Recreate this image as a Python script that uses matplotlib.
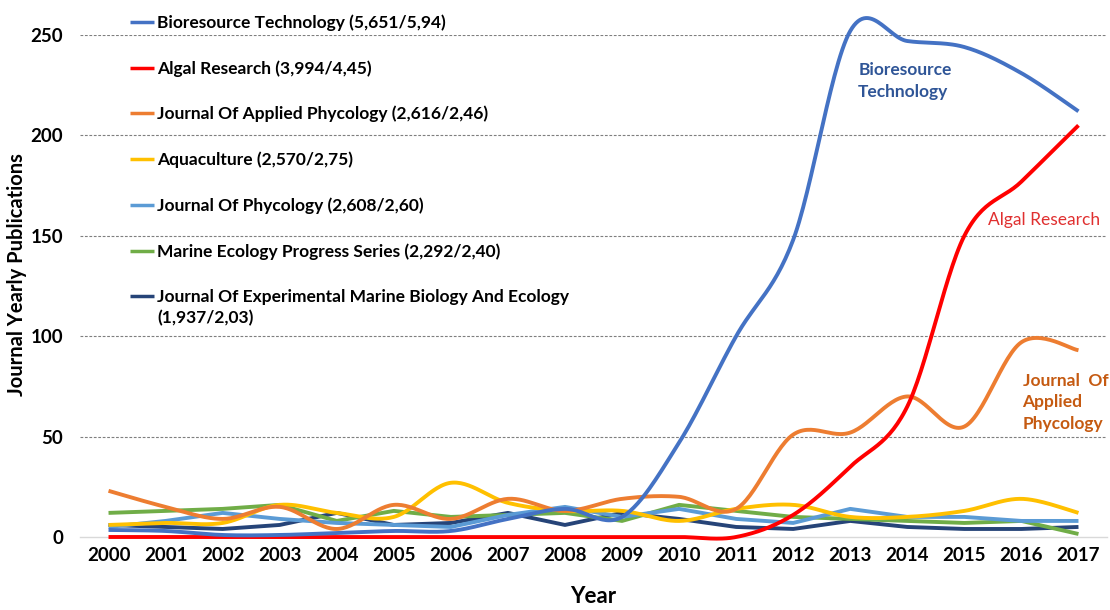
import numpy as np
import matplotlib
matplotlib.use("Agg")
import matplotlib.pyplot as plt

plt.rcParams['font.family'] = ['Lato', 'DejaVu Sans']

years = list(range(2000, 2018))

# yearly publications
bioresource = [3.5, 3, 1, 1, 2, 3, 3, 9, 14, 10, 47, 100, 148, 252, 247, 244, 231, 212]
algal = [0, 0, 0, 0, 0, 0, 0, 0, 0, 0, 0, 0, 11, 35, 65, 150, 177, 205]
applied_phyc = [23, 15, 9, 15, 4, 16, 9, 19, 13, 19, 20, 14, 51, 52, 70, 55, 97, 93]
aquaculture = [6, 7, 7, 16, 12, 10, 27, 17, 13, 13, 8, 14, 16, 10, 10, 13, 19, 12]
phycology = [5, 8, 12, 9, 7, 6, 5, 11, 15, 10, 14, 9, 7, 14, 10, 10, 8, 8]
meps = [12, 13, 14, 16, 8, 13, 10, 11, 12, 8, 16, 13, 10, 9, 8, 7, 8, 1.5]
jembe = [6, 5, 4, 6, 12, 6, 7, 12, 6, 12, 9, 5, 4, 8, 5, 4, 4, 5]

labels = [
    "Bioresource Technology (5,651/5,94)",
    "Algal Research (3,994/4,45)",
    "Journal Of Applied Phycology (2,616/2,46)",
    "Aquaculture (2,570/2,75)",
    "Journal Of Phycology (2,608/2,60)",
    "Marine Ecology Progress Series (2,292/2,40)",
    "Journal Of Experimental Marine Biology And Ecology",
]
series = [bioresource, algal, applied_phyc, aquaculture, phycology, meps, jembe]
colors = ['#4472C4', '#FF0000', '#ED7D31', '#FFC000', '#5B9BD5', '#70AD47', '#264478']
smooth = [True, True, True, True, False, False, False]


def excel_smooth(x, y, n=30):
    # Excel style smoothed line: Catmull-Rom through the points as cubic Beziers
    x = np.asarray(x, float)
    y = np.asarray(y, float)
    px = np.concatenate([[x[0]], x, [x[-1]]])
    py = np.concatenate([[y[0]], y, [y[-1]]])
    t = np.linspace(0, 1, n)[:, None]
    xs, ys = [], []
    for i in range(1, len(px) - 2):
        p0 = np.array([px[i], py[i]])
        p3 = np.array([px[i + 1], py[i + 1]])
        c1 = p0 + (np.array([px[i + 1], py[i + 1]]) - np.array([px[i - 1], py[i - 1]])) / 6
        c2 = p3 - (np.array([px[i + 2], py[i + 2]]) - np.array([px[i], py[i]])) / 6
        b = (1 - t) ** 3 * p0 + 3 * (1 - t) ** 2 * t * c1 + 3 * (1 - t) * t ** 2 * c2 + t ** 3 * p3
        xs.append(b[:, 0])
        ys.append(b[:, 1])
    return np.concatenate(xs), np.concatenate(ys)


fig = plt.figure(figsize=(11.1, 6.1), dpi=100)
ax = fig.add_axes([80 / 1110, 73 / 610, 1027 / 1110, 502 / 610])

xi = np.arange(len(years))
handles = []
for k, (vals, c, sm, lab) in enumerate(zip(series, colors, smooth, labels)):
    if sm:
        sx, sy = excel_smooth(xi, vals)
    else:
        sx, sy = xi, np.asarray(vals, float)
    h, = ax.plot(sx, sy, color=c, lw=2.8, solid_capstyle='butt', label=lab,
                 zorder=10 - k, clip_on=False)
    handles.append(h)

ax.set_xlim(-0.5, len(years) - 0.5)
ax.set_ylim(0, 250)
ax.set_xticks(xi)
ax.set_xticklabels([str(y) for y in years])
ax.set_yticks(range(0, 251, 50))
ax.tick_params(length=0, labelsize=13.5)
ax.tick_params(axis='y', pad=12)
ax.tick_params(axis='x', pad=7)
for t in ax.get_xticklabels() + ax.get_yticklabels():
    t.set_fontweight('bold')

for gy in range(50, 251, 50):
    ax.axhline(gy, color='#7f7f7f', lw=0.8, ls=(0, (2.5, 1.5)), zorder=0)
for s in ['top', 'right', 'left']:
    ax.spines[s].set_visible(False)
ax.spines['bottom'].set_color('#d9d9d9')
ax.spines['bottom'].set_linewidth(1.0)

ax.set_xlabel("Year", fontsize=16, fontweight='bold', labelpad=16)
ax.set_ylabel("Journal Yearly Publications", fontsize=14.5, fontweight='bold')
ax.yaxis.set_label_coords(-0.0516, 0.522)

leg = ax.legend(handles=handles, loc='upper left', bbox_to_anchor=(0.0487, 1.041),
                frameon=False, handlelength=1.4, handletextpad=0.15,
                labelspacing=1.68, borderpad=0, borderaxespad=0,
                prop={'weight': 'bold', 'size': 12.5})
for h in leg.legend_handles:
    h.set_linewidth(2.5)

# second line of the last legend entry
fig.canvas.draw()
bb = leg.get_texts()[-1].get_window_extent()
fig.text(bb.x0 / 1110, (bb.y0 - 5) / 610, "(1,937/2,03)", fontsize=12.5,
         fontweight='bold', va='top', ha='left')

# series annotations
ax.text(13.14, 227, "Bioresource\nTechnology", color='#2F5597', fontsize=12.5,
        fontweight='bold', ha='left', va='center', linespacing=1.45)
ax.text(15.42, 158, "Algal Research", color='#E03030', fontsize=12.5,
        ha='left', va='center')
ax.text(16.02, 67, "Journal  Of\nApplied\nPhycology", color='#C55A11', fontsize=12.5,
        fontweight='bold', ha='left', va='center', linespacing=1.45)

fig.savefig("out.png", dpi=100)
